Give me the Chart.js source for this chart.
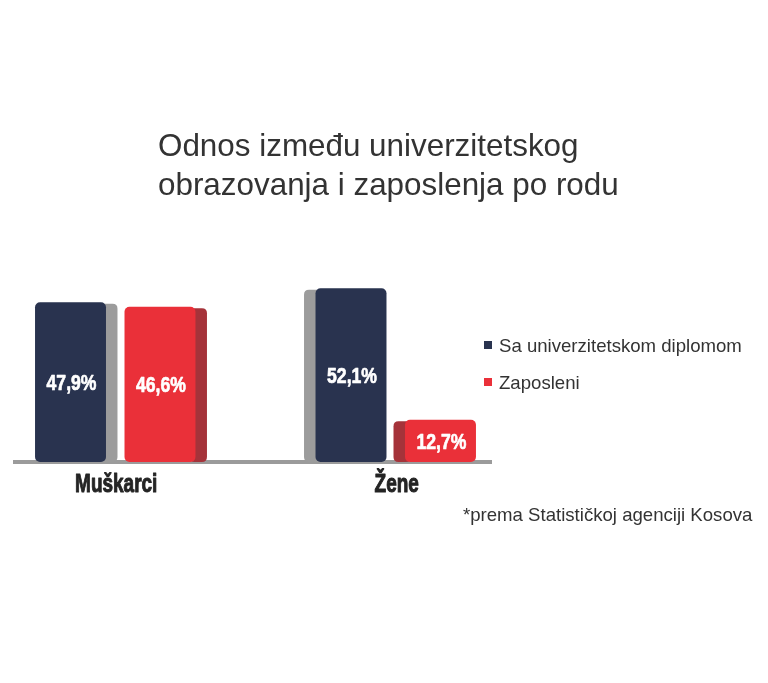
<!DOCTYPE html>
<html><head><meta charset="utf-8">
<script src="https://cdn.jsdelivr.net/npm/chart.js@4.4.1/dist/chart.umd.min.js"></script>
<style>html,body{margin:0;padding:0;background:#fff;}#wrap{position:relative;width:768px;height:683px;}</style>
</head><body><div id="wrap"><canvas id="c" width="768" height="683"></canvas></div>
<script>
// ---- data ----
const titleLines = ['Odnos između univerzitetskog', 'obrazovanja i zaposlenja po rodu'];
const categories = ['Muškarci', 'Žene'];
const seriesNames = ['Sa univerzitetskom diplomom', 'Zaposleni'];
const diplomaValues = [47.9, 52.1];
const employedValues = [46.6, 12.7];
const footnote = '*prema Statističkoj agenciji Kosova';

// ---- style ----
const NAVY = '#29334f', RED = '#ea3039', GRAY = '#9c9c9c', DARKRED = '#a5333a';
const TEXT = '#333333';
const SIDE_DIR = [1, -1];      // 3D side: right for first group, left for second
const SIDE_W = 11.5;
const SANS = '"Liberation Sans", Arial, Helvetica, sans-serif';

const fmt = v => v.toFixed(1).replace('.', ',') + '%';

function rr(ctx, x, y, w, h, r) {
  ctx.beginPath();
  ctx.moveTo(x + r, y);
  ctx.lineTo(x + w - r, y);
  ctx.quadraticCurveTo(x + w, y, x + w, y + r);
  ctx.lineTo(x + w, y + h - r);
  ctx.quadraticCurveTo(x + w, y + h, x + w - r, y + h);
  ctx.lineTo(x + r, y + h);
  ctx.quadraticCurveTo(x, y + h, x, y + h - r);
  ctx.lineTo(x, y + r);
  ctx.quadraticCurveTo(x, y, x + r, y);
  ctx.closePath();
}

// condensed heavy text: draw with horizontal scale plus a thin stroke
function condensedText(ctx, text, x, y, k, stroke) {
  ctx.save();
  ctx.translate(x, y);
  ctx.scale(k, 1);
  ctx.fillText(text, 0, 0);
  if (stroke) {
    ctx.strokeStyle = ctx.fillStyle;
    ctx.lineWidth = stroke;
    ctx.lineJoin = 'round';
    ctx.strokeText(text, 0, 0);
  }
  ctx.restore();
}

const sidePlugin = {
  id: 'sides',
  beforeDatasetsDraw(chart) {
    const ctx = chart.ctx;
    ctx.save();
    chart.data.datasets.forEach((ds, di) => {
      const meta = chart.getDatasetMeta(di);
      meta.data.forEach((bar, i) => {
        const p = bar.getProps(['x', 'y', 'base', 'width'], true);
        const dir = SIDE_DIR[i];
        const half = p.width / 2;
        const x0 = dir > 0 ? p.x + half - 6 : p.x - half - SIDE_W;
        ctx.fillStyle = ds.sideColor;
        rr(ctx, x0, p.y + 1.5, SIDE_W + 6, p.base - p.y - 1.5, 5);
        ctx.fill();
      });
    });
    ctx.restore();
  }
};

const labelPlugin = {
  id: 'valueLabels',
  afterDatasetsDraw(chart) {
    const ctx = chart.ctx;
    ctx.save();
    ctx.fillStyle = '#ffffff';
    ctx.font = 'bold 22px ' + SANS;
    ctx.textAlign = 'center';
    ctx.textBaseline = 'alphabetic';
    chart.data.datasets.forEach((ds, di) => {
      const meta = chart.getDatasetMeta(di);
      meta.data.forEach((bar, i) => {
        const p = bar.getProps(['x', 'y', 'base'], true);
        condensedText(ctx, fmt(ds.data[i].y), p.x + 1, (p.y + p.base) / 2 + 8, 0.8, 0.7);
      });
    });
    ctx.restore();
  }
};

const categoryPlugin = {
  id: 'categoryLabels',
  afterDraw(chart) {
    const ctx = chart.ctx;
    const xs = chart.scales.x;
    ctx.save();
    ctx.fillStyle = '#242424';
    ctx.font = 'bold 26px ' + SANS;
    ctx.textAlign = 'center';
    ctx.textBaseline = 'alphabetic';
    xs.ticks.forEach((t) => {
      condensedText(ctx, categories[t.value], xs.getPixelForValue(t.value) + 1, xs.top + 30, 0.73, 1.0);
    });
    ctx.restore();
  }
};

const decorPlugin = {
  id: 'decor',
  afterDraw(chart) {
    const ctx = chart.ctx;
    ctx.save();
    ctx.fillStyle = TEXT;
    ctx.textAlign = 'left';
    ctx.textBaseline = 'alphabetic';
    ctx.font = '31.4px ' + SANS;
    titleLines.forEach((t, i) => ctx.fillText(t, 158, 155.5 + i * 39));
    // legend
    ctx.font = '18.6px ' + SANS;
    chart.data.datasets.forEach((ds, i) => {
      const cy = 345 + i * 37;
      ctx.fillStyle = ds.backgroundColor;
      ctx.fillRect(484, cy - 4, 8, 8);
      ctx.fillStyle = TEXT;
      ctx.fillText(ds.label, 499, cy + 6.5);
    });
    // footnote
    ctx.fillText(footnote, 463, 521);
    ctx.restore();
  }
};

new Chart(document.getElementById('c'), {
  type: 'bar',
  data: {
    datasets: [
      { label: seriesNames[0], data: diplomaValues.map((v, i) => ({ x: i, y: v })), backgroundColor: NAVY, sideColor: GRAY },
      { label: seriesNames[1], data: employedValues.map((v, i) => ({ x: i, y: v })), backgroundColor: RED, sideColor: DARKRED }
    ]
  },
  options: {
    responsive: false,
    animation: false,
    devicePixelRatio: 1,
    layout: { padding: { left: 15, right: 277, top: 262, bottom: 181 } },
    datasets: { bar: { categoryPercentage: 0.638, barPercentage: 0.793, borderRadius: 5, borderSkipped: false } },
    scales: {
      x: {
        type: 'linear', min: -0.3574, max: 1.3396, offset: false,
        grid: { display: false, drawTicks: false },
        border: { display: true, color: '#9b9b9b', width: 4 },
        afterBuildTicks: s => { s.ticks = categories.map((c, i) => ({ value: i })); },
        afterFit: s => { s.height = 40; },
        ticks: { display: false, callback: v => categories[v] ?? '' }
      },
      y: { display: false, min: 0, max: 60 }
    },
    plugins: { legend: { display: false }, tooltip: { enabled: false } }
  },
  plugins: [sidePlugin, labelPlugin, categoryPlugin, decorPlugin]
});
</script>
</body></html>
